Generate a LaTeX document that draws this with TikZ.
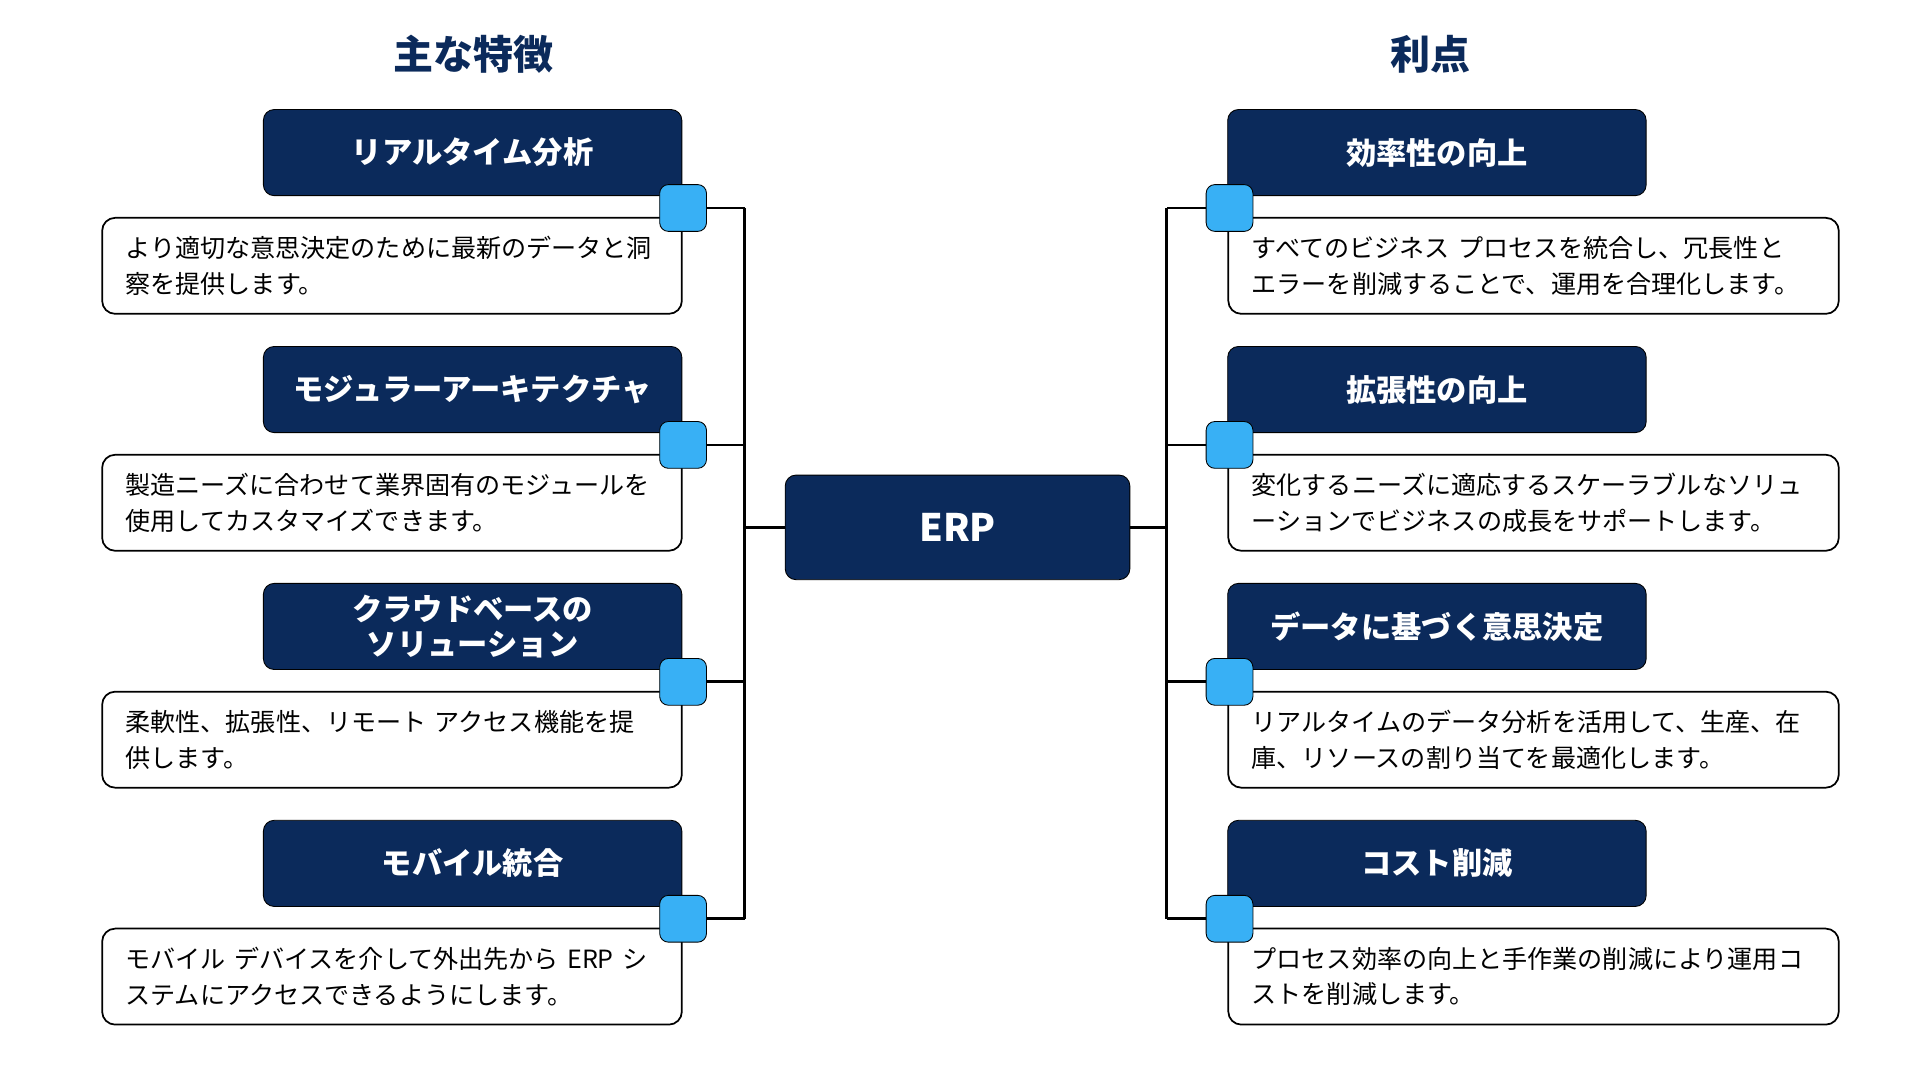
\documentclass[tikz,border=0pt]{standalone}
\usepackage{fontspec}
\setmainfont{Noto Sans CJK JP}
\usetikzlibrary{positioning}
\definecolor{navy}{HTML}{0B2A5B}
\definecolor{skyblue}{HTML}{38B0F5}
\tikzset{
  head/.style = {rectangle, rounded corners=5pt, draw=black, fill=navy, text=white, minimum width=6.8cm, minimum height=1.4cm, align=center, font=\fontsize{14}{16}\selectfont\bfseries},
  desc/.style = {rectangle, rounded corners=6pt, draw=black, line width=0.8pt, fill=white, minimum height=1.56cm, inner xsep=0.38cm, align=left, font=\fontsize{11.6}{16.5}\selectfont},
  descl/.style = {desc, text width=8.66cm},
  descr/.style = {desc, text width=9.16cm},
  knob/.style = {rectangle, rounded corners=4pt, draw=black, fill=skyblue, minimum size=0.76cm},
  title/.style = {text=navy, font=\fontsize{18.5}{20}\selectfont\bfseries},
  link/.style = {line width=1.3pt, black}
}
\begin{document}
\begin{tikzpicture}
\useasboundingbox (0,0) rectangle (31.2,17.55);
% titles
\node (tleft)[title] at (7.7,16.67) {主な特徴};
\node (tright)[title] at (23.24,16.67) {利点};
% centre
\node (erp)[head, minimum width=5.6cm, minimum height=1.7cm, font=\fontsize{17.5}{20}\selectfont\bfseries] at (15.56,8.98) {ERP};
% left side
\node (fh1)[head] at (7.68,15.07) {リアルタイム分析};
\node (fd1)[descl] at (6.37,13.23) {より適切な意思決定のために最新のデータと洞\\察を提供します。};
\node (fh2)[head] at (7.68,11.22) {モジュラーアーキテクチャ};
\node (fd2)[descl] at (6.37,9.38) {製造ニーズに合わせて業界固有のモジュールを\\使用してカスタマイズできます。};
\node (fh3)[head] at (7.68,7.37) {クラウドベースの\\ソリューション};
\node (fd3)[descl] at (6.37,5.53) {柔軟性、拡張性、リモート アクセス機能を提\\供します。};
\node (fh4)[head] at (7.68,3.52) {モバイル統合};
\node (fd4)[descl] at (6.37,1.68) {モバイル デバイスを介して外出先から ERP シ\\ステムにアクセスできるようにします。};
% right side
\node (bh1)[head] at (23.35,15.07) {効率性の向上};
\node (bd1)[descr] at (24.92,13.23) {すべてのビジネス プロセスを統合し、冗長性と\\エラーを削減することで、運用を合理化します。};
\node (bh2)[head] at (23.35,11.22) {拡張性の向上};
\node (bd2)[descr] at (24.92,9.38) {変化するニーズに適応するスケーラブルなソリュ\\ーションでビジネスの成長をサポートします。};
\node (bh3)[head] at (23.35,7.37) {データに基づく意思決定};
\node (bd3)[descr] at (24.92,5.53) {リアルタイムのデータ分析を活用して、生産、在\\庫、リソースの割り当てを最適化します。};
\node (bh4)[head] at (23.35,3.52) {コスト削減};
\node (bd4)[descr] at (24.92,1.68) {プロセス効率の向上と手作業の削減により運用コ\\ストを削減します。};
% knobs
\node (fk1)[knob] at (11.1,14.17) {};
\node (fk2)[knob] at (11.1,10.32) {};
\node (fk3)[knob] at (11.1,6.47) {};
\node (fk4)[knob] at (11.1,2.62) {};
\node (bk1)[knob] at (19.98,14.17) {};
\node (bk2)[knob] at (19.98,10.32) {};
\node (bk3)[knob] at (19.98,6.47) {};
\node (bk4)[knob] at (19.98,2.62) {};
% trunk
\coordinate (lt) at (12.1,14.17);
\coordinate (lb) at (12.1,2.62);
\coordinate (lm) at (12.1,8.98);
\coordinate (rt) at (18.96,14.17);
\coordinate (rb) at (18.96,2.62);
\coordinate (rm) at (18.96,8.98);
\draw [link] (lt) -- (lb);
\draw [link] (rt) -- (rb);
\draw [link] (lm) -- (erp);
\draw [link] (erp) -- (rm);
\draw [link] (fk1) -- (lt);
\draw [link] (fk2) -- (12.1,10.32);
\draw [link] (fk3) -- (12.1,6.47);
\draw [link] (fk4) -- (lb);
\draw [link] (bk1) -- (rt);
\draw [link] (bk2) -- (18.96,10.32);
\draw [link] (bk3) -- (18.96,6.47);
\draw [link] (bk4) -- (rb);
\end{tikzpicture}
\end{document}
